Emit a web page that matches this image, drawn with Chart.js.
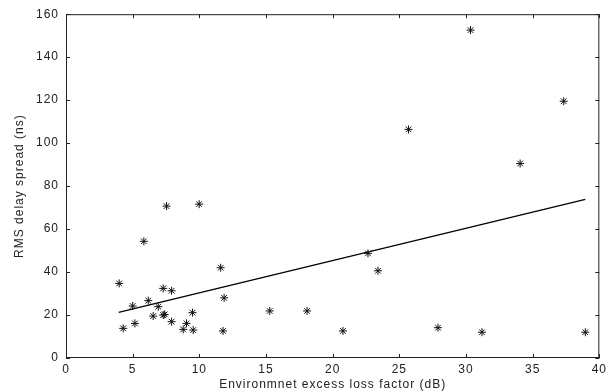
<!DOCTYPE html>
<html lang="en">
<head>
    <meta charset="UTF-8">
    <title>RMS delay spread vs excess loss factor</title>
    <script src="https://cdn.jsdelivr.net/npm/chart.js"></script>
    <style>
        html, body { margin: 0; padding: 0; background: #fff; }
        #wrap { width: 610px; height: 392px; }
    </style>
</head>
<body>
    <div id="wrap"><canvas id="scatterChart" width="610" height="392"></canvas></div>
    <script>
        // measured points (excess loss factor dB, RMS delay spread ns)
        const lossFactor = [3.99, 4.29, 5.0, 5.17, 5.84, 6.17, 6.54, 6.92, 7.29, 7.29, 7.4, 7.54, 7.92, 7.92,
                            8.79, 9.04, 9.49, 9.54, 9.99, 11.6, 11.86, 11.78, 15.28, 18.08, 20.77, 22.65,
                            23.4, 25.69, 27.9, 30.34, 31.2, 34.06, 37.33, 38.95];
        const delaySpread = [34.7, 13.8, 24.2, 16.1, 54.3, 26.7, 19.5, 23.9, 32.4, 20.0, 20.3, 70.7, 31.3, 16.9,
                             13.3, 16.1, 21.1, 13.0, 71.6, 42.0, 28.0, 12.6, 21.9, 21.9, 12.6, 48.7,
                             40.6, 106.4, 14.1, 152.6, 12.0, 90.5, 119.5, 12.0];

        // least squares fit line end points
        const fitX = [3.95, 38.95];
        const fitY = [21.2, 73.8];

        const xTicks = [0, 5, 10, 15, 20, 25, 30, 35, 40];
        const yTicks = [0, 20, 40, 60, 80, 100, 120, 140, 160];

        const boxPlugin = {
            id: 'box',
            beforeDraw(chart) {
                chart.ctx.letterSpacing = '1px';
            },
            afterDraw(chart) {
                const ctx = chart.ctx;
                const a = chart.chartArea;
                const xs = chart.scales.x, ys = chart.scales.y;
                ctx.save();
                ctx.strokeStyle = '#222';
                ctx.lineWidth = 1;
                ctx.strokeRect(a.left + 0.5, a.top + 0.5, a.right - a.left - 1, a.bottom - a.top - 1);
                ctx.beginPath();
                xTicks.forEach(v => {
                    const px = Math.round(xs.getPixelForValue(v)) + 0.5;
                    ctx.moveTo(px, a.bottom); ctx.lineTo(px, a.bottom - 4);
                    ctx.moveTo(px, a.top); ctx.lineTo(px, a.top + 4);
                });
                yTicks.forEach(v => {
                    const py = Math.round(ys.getPixelForValue(v)) + 0.5;
                    ctx.moveTo(a.left, py); ctx.lineTo(a.left + 4, py);
                    ctx.moveTo(a.right, py); ctx.lineTo(a.right - 4, py);
                });
                ctx.stroke();
                ctx.restore();
            }
        };

        const ctx = document.getElementById('scatterChart').getContext('2d');
        new Chart(ctx, {
            type: 'scatter',
            data: {
                datasets: [{
                    label: 'Measured',
                    data: lossFactor.map((x, i) => ({ x: x, y: delaySpread[i] })),
                    pointStyle: 'star',
                    pointRadius: 4,
                    pointBorderWidth: 1,
                    borderColor: '#111',
                    backgroundColor: '#111'
                }, {
                    label: 'Fit',
                    type: 'line',
                    data: fitX.map((x, i) => ({ x: x, y: fitY[i] })),
                    borderColor: '#000',
                    borderWidth: 1.3,
                    pointRadius: 0,
                    fill: false
                }]
            },
            options: {
                responsive: false,
                animation: false,
                layout: { padding: { top: 14, right: 10, left: 0, bottom: 0 } },
                plugins: { legend: { display: false }, tooltip: { enabled: false } },
                scales: {
                    x: {
                        type: 'linear', min: 0, max: 40,
                        afterFit: s => { s.height = 34; },
                        afterBuildTicks: s => { s.ticks = xTicks.map(v => ({ value: v })); },
                        grid: { display: false, drawTicks: false },
                        border: { display: false },
                        ticks: { color: '#222', padding: 4, font: { family: 'Liberation Sans', size: 12 } },
                        title: {
                            display: true,
                            text: 'Environmnet excess loss factor (dB)',
                            color: '#222',
                            padding: { top: 0, bottom: 0 },
                            font: { family: 'Liberation Sans', size: 12 }
                        }
                    },
                    y: {
                        type: 'linear', min: 0, max: 160,
                        afterFit: s => { s.width = 66; },
                        afterBuildTicks: s => { s.ticks = yTicks.map(v => ({ value: v })); },
                        grid: { display: false, drawTicks: false },
                        border: { display: false },
                        ticks: { color: '#222', padding: 7, font: { family: 'Liberation Sans', size: 12 } },
                        title: {
                            display: true,
                            text: 'RMS delay spread (ns)',
                            color: '#222',
                            padding: { top: 12, bottom: 0 },
                            font: { family: 'Liberation Sans', size: 12 }
                        }
                    }
                }
            },
            plugins: [boxPlugin]
        });
    </script>
</body>
</html>
